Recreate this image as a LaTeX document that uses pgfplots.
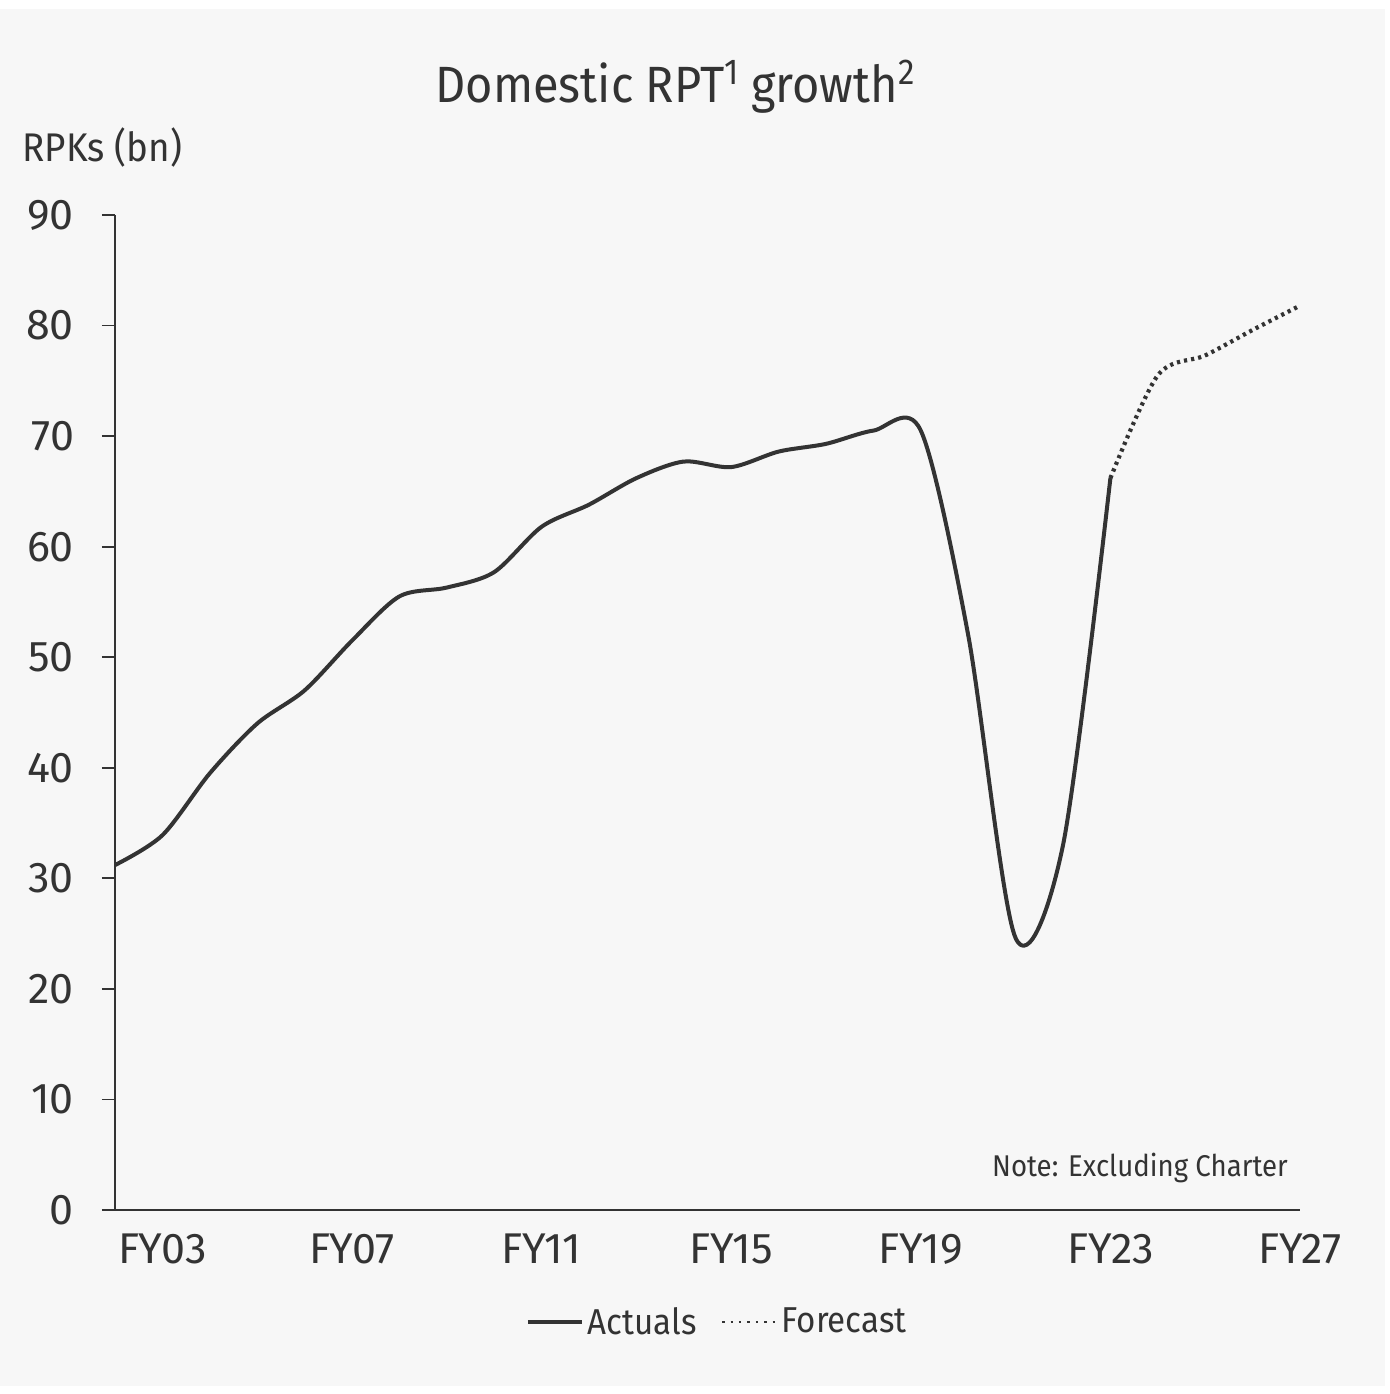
\documentclass[border=0pt]{standalone}
\usepackage{pgfplots}
\pgfplotsset{compat=1.18}
\usepackage{fontspec}
\setmainfont{Fira Sans}[FakeStretch=0.92]
\newfontfamily\tickfont{Fira Sans}
\definecolor{ink}{HTML}{333333}
\definecolor{panel}{HTML}{F7F7F7}
\newcommand{\titlesup}[1]{\raisebox{9bp}{\fontsize{18bp}{20bp}\selectfont #1}}

% Domestic RPKs (bn), financial years
\pgfplotstableread{
fy rpk
2 31.2
3 33.9
4 39.5
5 44.0
6 47.0
7 51.5
8 55.5
9 56.3
10 57.7
11 61.8
12 63.8
13 66.2
14 67.7
15 67.2
16 68.6
17 69.3
18 70.5
19 70.5
20 52.0
21 24.6
22 33.0
23 66.2
}\actuals
\pgfplotstableread{
fy rpk
23 66.2
24 75.5
25 77.3
26 79.6
27 81.8
}\forecast

\begin{document}
\begin{tikzpicture}
\path[use as bounding box] (0,0) rectangle (695bp,697bp);
\fill[white] (0,0) rectangle (695bp,697bp);
\fill[panel] (0,4bp) rectangle (692.5bp,692.5bp);

\node[anchor=base, text=ink, font=\fontsize{25.5bp}{30bp}\selectfont]
  at (337.5bp,645.5bp) {Domestic RPT\titlesup{1} growth\titlesup{2}};
\node[anchor=base west, text=ink, inner sep=0, font=\fontsize{20bp}{24bp}\selectfont]
  at (11bp,616bp) {RPKs (bn)};

\begin{axis}[
  at={(57.5bp,92bp)}, anchor=south west,
  scale only axis, width=592.5bp, height=497.5bp,
  xmin=2, xmax=27, ymin=0, ymax=90,
  axis lines*=left,
  axis line style={ink, line width=0.9bp, -},
  xtick={3,7,11,15,19,23,27},
  xticklabels={FY03,FY07,FY11,FY15,FY19,FY23,FY27},
  ytick={0,10,...,90},
  x tick style={draw=none},
  y tick style={ink, line width=0.9bp},
  tick align=outside, major tick length=6.5bp,
  ticklabel style={text=ink, font=\tickfont\fontsize{21.5bp}{25bp}\selectfont},
  /pgf/number format/assume math mode=true,
  yticklabel style={anchor=east, xshift=-10.5bp},
  xticklabel style={yshift=-2bp},
  legend columns=2,
  legend style={at={(0.509,-0.1126)}, anchor=center, draw=none, fill=none,
    text=ink, font=\fontsize{18bp}{22bp}\selectfont,
    /tikz/every even column/.append style={column sep=10bp}},
]
\addplot[ink, line width=2bp, smooth, line join=round,
  legend image code/.code={\draw[ink, line width=2bp] (0bp,0bp) -- (27bp,0bp);}]
  table[x=fy, y=rpk] {\actuals};
\addlegendentry{Actuals}
\addplot[ink, line width=2.1bp, smooth, dash pattern=on 1.6bp off 2bp,
  legend image code/.code={\draw[ink, line width=1.4bp, dash pattern=on 1.2bp off 3bp] (0bp,0bp) -- (27bp,0bp);}]
  table[x=fy, y=rpk] {\forecast};
\addlegendentry{Forecast}
\node[anchor=base east, text=ink, inner sep=0, font=\fontsize{15bp}{18bp}\selectfont]
  at (rel axis cs:0.99,0.0332) {Note: Excluding Charter};
\end{axis}
\end{tikzpicture}
\end{document}
